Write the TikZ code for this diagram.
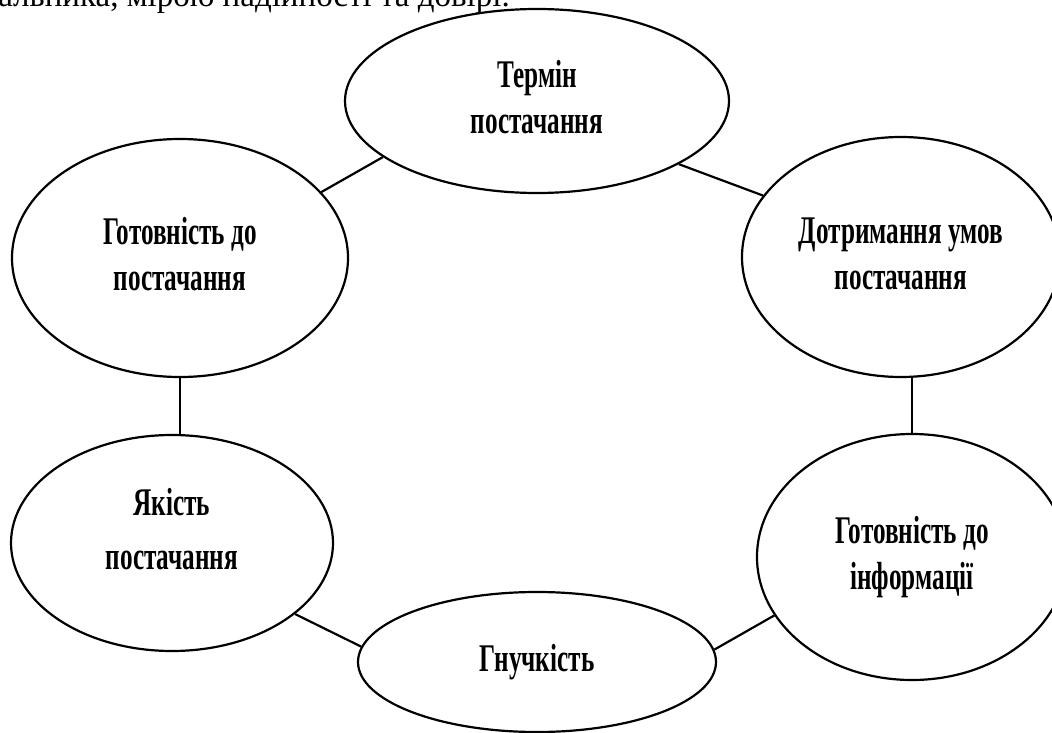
\documentclass[tikz,border=0pt]{standalone}
\usepackage{fontspec}
\usepackage{graphicx}
\setmainfont{Liberation Serif}
\usetikzlibrary{shapes.geometric}
\newcommand\ovaltext[1]{\scalebox{0.9}[1.4]{\fontsize{28}{33}\selectfont\bfseries\begin{tabular}{@{}c@{}}#1\end{tabular}}}
\tikzset{
  oval/.style={ellipse, draw, line width=2.2pt, inner sep=0pt, align=center},
  link/.style={line width=2.2pt},
}
\begin{document}
\begin{tikzpicture}[x=1pt,y=-1pt]
\useasboundingbox (0,0) rectangle (1052,733);
\clip (0,0) rectangle (1052,733);
\fill[white] (0,0) rectangle (1052,733);
\node[anchor=base east, font=\fontsize{33}{39}\selectfont, inner sep=0pt] (cap) at (510,7) {постачальника, мірою надійності та довірі.};
\node[oval, minimum width=384pt, minimum height=184pt] (top) at (537,101) {\ovaltext{Термін\\постачання}};
\node[oval, minimum width=336pt, minimum height=238pt] (tl) at (180,258) {\ovaltext{Готовність до\\постачання}};
\node[oval, minimum width=318pt, minimum height=240pt] (tr) at (901,257) {\ovaltext{Дотримання умов\\постачання}};
\node[oval, minimum width=322pt, minimum height=216pt] (bl) at (172,543) {\ovaltext{Якість\\[5pt]постачання\\[14pt]}};
\node[oval, minimum width=310pt, minimum height=246pt] (br) at (912,557) {\ovaltext{Готовність до\\інформації}};
\node[oval, minimum width=358pt, minimum height=140pt] (bot) at (537,662) {\ovaltext{Гнучкість}};
\draw[link] (tl.25) -- (top.200);
\draw[link] (top.336) -- (tr.156);
\draw[link] (tl.south) -- (tl.south |- bl.north);
\draw[link] (br.north) -- (br.north |- tr.south);
\draw[link] (bl.330) -- (bot.175);
\draw[link] (bot.4) -- (br.203);
\end{tikzpicture}
\end{document}
